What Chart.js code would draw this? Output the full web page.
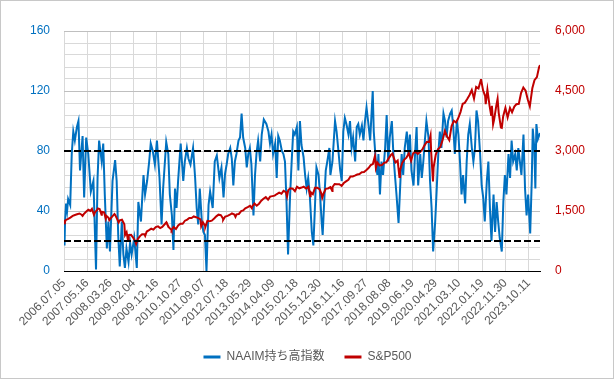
<!DOCTYPE html>
<html><head><meta charset="utf-8">
<script src="https://cdn.jsdelivr.net/npm/chart.js@4.4.1/dist/chart.umd.min.js"></script>
<style>html,body{margin:0;padding:0;background:#fff;}canvas{display:block;}</style>
</head><body>
<canvas id="c" width="615" height="380"></canvas>
<script>
// x-axis tick labels (one every 45 weekly categories)
const xTickLabels = ['2006.07.05','2007.05.16','2008.03.26','2009.02.04','2009.12.16','2010.10.27','2011.09.07','2012.07.18','2013.05.29','2014.04.09','2015.02.18','2015.12.30','2016.11.16','2017.09.27','2018.08.08','2019.06.19','2020.04.29','2021.03.10','2022.01.19','2022.11.30','2023.10.11'];
const xTickStep = 45;
const xMaxIndex = 922;

// left / right axis tick labels
const leftTickLabels = [0, 40, 80, 120, 160];
const rightTickLabels = ['0', '1,500', '3,000', '4,500', '6,000'];

// NAAIM exposure index: week index since 2006.07.05, value
const naaimWeek = [0,1,2,4,6,8,12,15,18,21,25,28,31,36,39,43,47,52,57,62,65,68,73,76,79,83,86,89,94,99,102,105,108,112,115,118,121,125,128,131,136,141,144,149,154,157,161,165,168,172,176,180,185,189,192,198,202,205,209,212,215,218,221,226,231,234,238,241,245,250,254,257,260,263,267,270,273,276,280,283,288,292,296,301,305,309,312,315,318,322,325,328,331,334,338,341,344,347,351,354,357,360,363,367,370,373,376,380,383,387,392,396,399,402,405,409,412,415,418,422,425,428,431,434,438,441,444,447,451,454,457,460,464,467,470,473,476,480,483,486,489,493,496,499,501,504,507,510,514,516,520,525,528,531,535,538,541,544,547,551,554,557,560,564,567,570,573,577,580,583,586,589,593,596,598,600,604,607,609,612,615,618,622,625,628,631,635,638,641,644,648,651,654,657,660,664,667,670,673,677,680,683,686,690,693,696,699,702,706,709,712,715,719,722,725,728,731,735,738,741,744,748,751,754,757,761,764,767,770,773,777,780,783,786,790,793,796,799,802,806,809,812,815,819,822,825,828,832,835,838,841,844,848,851,854,857,861,864,867,870,874,877,880,883,886,890,893,896,899,903,906,908,911,913,915,918,922];
const naaimValue = [22,17,33,45,40,48,44,78,93,87,96,100,67,90,49,89,78,53,60,1,62,87,73,85,51,15,33,13,60,74,60,24,3,33,11,2,15,6,19,11,22,2,46,33,64,51,60,73,85,80,71,87,62,31,55,86,78,51,37,14,55,42,60,85,60,73,82,75,71,82,62,42,31,55,33,26,24,0,44,53,42,73,77,62,69,49,65,71,78,82,75,57,73,78,87,89,105,89,82,69,78,82,71,37,64,79,87,73,91,101,98,93,85,91,78,85,62,90,87,80,78,73,46,11,51,73,93,91,96,67,100,84,76,64,55,62,51,26,17,42,69,64,51,33,24,46,67,73,82,64,73,100,93,82,67,60,93,102,98,91,100,82,89,73,96,98,91,97,87,100,109,100,87,107,120,93,73,64,78,51,73,64,82,104,73,89,100,78,64,51,32,55,78,64,82,93,78,91,67,57,78,96,57,78,62,73,87,100,89,60,42,13,33,55,78,93,82,105,100,89,100,105,107,96,78,100,91,73,51,64,45,73,91,98,82,73,82,107,100,78,57,49,33,60,73,42,20,51,26,46,33,22,13,46,64,51,78,62,87,73,78,67,82,73,64,91,55,37,51,25,60,95,82,55,98,88,92];

// S&P500 closes (date, value)
const spDate = ['2006-07-05','2006-07-18','2006-07-31','2006-08-31','2006-09-29','2006-10-31','2006-11-30','2006-12-29','2007-01-31','2007-02-28','2007-03-14','2007-03-30','2007-04-30','2007-05-31','2007-06-29','2007-07-19','2007-08-15','2007-08-31','2007-09-28','2007-10-09','2007-10-31','2007-11-26','2007-11-30','2007-12-31','2008-01-22','2008-01-31','2008-02-29','2008-03-10','2008-03-31','2008-04-30','2008-05-19','2008-05-30','2008-06-30','2008-07-15','2008-07-31','2008-08-29','2008-09-30','2008-10-10','2008-10-31','2008-11-20','2008-11-28','2008-12-31','2009-01-30','2009-02-27','2009-03-09','2009-03-31','2009-04-30','2009-05-29','2009-06-30','2009-07-10','2009-07-31','2009-08-31','2009-09-30','2009-10-30','2009-11-30','2009-12-31','2010-01-29','2010-02-26','2010-03-31','2010-04-23','2010-04-30','2010-05-28','2010-06-30','2010-07-02','2010-07-30','2010-08-31','2010-09-30','2010-10-29','2010-11-30','2010-12-31','2011-01-31','2011-02-28','2011-03-31','2011-04-29','2011-05-31','2011-06-30','2011-07-29','2011-08-08','2011-08-31','2011-09-30','2011-10-03','2011-10-31','2011-11-30','2011-12-30','2012-01-31','2012-02-29','2012-03-30','2012-04-30','2012-05-31','2012-06-01','2012-06-29','2012-07-31','2012-08-31','2012-09-28','2012-10-31','2012-11-15','2012-11-30','2012-12-31','2013-01-31','2013-02-28','2013-03-28','2013-04-30','2013-05-31','2013-06-24','2013-06-28','2013-07-31','2013-08-30','2013-09-30','2013-10-31','2013-11-29','2013-12-31','2014-01-31','2014-02-28','2014-03-31','2014-04-30','2014-05-30','2014-06-30','2014-07-31','2014-08-29','2014-09-30','2014-10-15','2014-10-31','2014-11-28','2014-12-31','2015-01-30','2015-02-27','2015-03-31','2015-04-30','2015-05-29','2015-06-30','2015-07-31','2015-08-25','2015-08-31','2015-09-30','2015-10-30','2015-11-30','2015-12-31','2016-01-29','2016-02-11','2016-02-29','2016-03-31','2016-04-29','2016-05-31','2016-06-27','2016-06-30','2016-07-29','2016-08-31','2016-09-30','2016-10-31','2016-11-30','2016-12-30','2017-01-31','2017-02-28','2017-03-31','2017-04-28','2017-05-31','2017-06-30','2017-07-31','2017-08-31','2017-09-29','2017-10-31','2017-11-30','2017-12-29','2018-01-26','2018-02-08','2018-02-28','2018-03-29','2018-04-30','2018-05-31','2018-06-29','2018-07-31','2018-08-31','2018-09-20','2018-10-31','2018-11-30','2018-12-24','2018-12-31','2019-01-31','2019-02-28','2019-03-29','2019-04-30','2019-05-31','2019-06-28','2019-07-31','2019-08-30','2019-09-30','2019-10-31','2019-11-29','2019-12-31','2020-01-31','2020-02-19','2020-02-28','2020-03-23','2020-03-31','2020-04-30','2020-05-29','2020-06-30','2020-07-31','2020-08-31','2020-09-30','2020-10-30','2020-11-30','2020-12-31','2021-01-29','2021-02-26','2021-03-31','2021-04-30','2021-05-28','2021-06-30','2021-07-30','2021-08-31','2021-09-30','2021-10-29','2021-11-30','2021-12-31','2022-01-03','2022-01-31','2022-02-28','2022-03-08','2022-03-31','2022-04-29','2022-05-20','2022-05-31','2022-06-16','2022-06-30','2022-07-29','2022-08-16','2022-08-31','2022-09-30','2022-10-12','2022-10-31','2022-11-30','2022-12-30','2023-01-31','2023-02-28','2023-03-31','2023-04-28','2023-05-31','2023-06-30','2023-07-31','2023-08-31','2023-09-29','2023-10-27','2023-11-30','2023-12-29','2024-01-31','2024-02-29','2024-03-08','2024-03-13'];
const spValue = [1270,1236,1277,1304,1336,1378,1401,1418,1438,1406,1377,1421,1482,1531,1503,1553,1406,1474,1527,1565,1549,1407,1481,1468,1310,1379,1331,1273,1323,1386,1426,1400,1280,1214,1267,1283,1166,899,969,752,896,903,826,735,677,798,873,919,919,879,987,1021,1057,1036,1096,1115,1074,1104,1169,1217,1187,1089,1031,1022,1102,1049,1141,1183,1181,1258,1286,1327,1326,1364,1345,1321,1292,1119,1219,1131,1099,1253,1247,1258,1312,1366,1408,1398,1310,1278,1362,1379,1407,1441,1412,1353,1416,1426,1498,1515,1569,1598,1631,1573,1606,1686,1633,1682,1757,1806,1848,1783,1859,1872,1884,1924,1960,1931,2003,1972,1862,2018,2068,2059,1995,2105,2068,2086,2107,2063,2104,1868,1972,1920,2079,2080,2044,1940,1829,1932,2060,2065,2097,2001,2099,2174,2171,2168,2126,2199,2239,2279,2364,2363,2384,2412,2423,2470,2472,2519,2575,2648,2674,2873,2581,2714,2641,2648,2705,2718,2816,2902,2931,2712,2760,2351,2507,2704,2784,2834,2946,2752,2942,2980,2926,2977,3038,3141,3231,3226,3386,2954,2237,2585,2912,3044,3100,3271,3500,3363,3270,3622,3756,3714,3811,3973,4181,4204,4298,4395,4523,4308,4605,4567,4766,4797,4516,4374,4171,4530,4132,3901,4132,3667,3785,4130,4305,3955,3586,3577,3872,4080,3840,4077,3970,4109,4169,4180,4450,4589,4508,4288,4117,4568,4770,4846,5096,5124,5150];

// reference levels on the left axis
const upperLevel = 80;
const lowerLevel = 20;

// convert a date into the weekly category index (one week is missing from the source in late 2015)
function weekIndex(s) {
  const p = s.split('-').map(Number);
  const t = Date.UTC(p[0], p[1] - 1, p[2]);
  const w = (t - Date.UTC(2006, 6, 5)) / (7 * 864e5);
  return t >= Date.UTC(2016, 0, 6) ? w - 1 : w;
}

const FONT = "'Liberation Sans', Arial, 'Noto Sans CJK JP', sans-serif";
Chart.defaults.font.family = FONT;
Chart.defaults.font.size = 12;

const framePlugin = {
  id: 'frame',
  beforeDraw(chart) {
    const c = chart.ctx;
    c.save(); c.fillStyle = '#fff'; c.fillRect(0, 0, chart.width, chart.height); c.restore();
  },
  afterDraw(chart) {
    const c = chart.ctx;
    c.save(); c.strokeStyle = '#c8c8c8'; c.lineWidth = 1;
    c.strokeRect(0.5, 0.5, 613, 378); c.restore();
  }
};

new Chart(document.getElementById('c'), {
  type: 'line',
  data: {
    datasets: [
      { label: 'NAAIM持ち高指数', data: naaimWeek.map((w, i) => ({ x: w, y: naaimValue[i] })),
        borderColor: '#0070C0', backgroundColor: '#0070C0', borderWidth: 2, pointRadius: 0, tension: 0, yAxisID: 'y', order: 3 },
      { label: 'S&P500', data: spDate.map((d, i) => ({ x: weekIndex(d), y: spValue[i] })),
        borderColor: '#C00000', backgroundColor: '#C00000', borderWidth: 2, pointRadius: 0, tension: 0, yAxisID: 'y1', order: 2 },
      { label: 'upper', data: [{ x: 0, y: upperLevel }, { x: xMaxIndex, y: upperLevel }],
        borderColor: '#000', borderWidth: 2, borderDash: [7, 3], pointRadius: 0, yAxisID: 'y', order: 1 },
      { label: 'lower', data: [{ x: 0, y: lowerLevel }, { x: xMaxIndex, y: lowerLevel }],
        borderColor: '#000', borderWidth: 2, borderDash: [7, 3], pointRadius: 0, yAxisID: 'y', order: 1 }
    ]
  },
  options: {
    responsive: false,
    animation: false,
    devicePixelRatio: 1,
    events: [],
    layout: { padding: { top: 31, right: 0, bottom: 7, left: 0 } },
    scales: {
      x: {
        type: 'linear', min: 0, max: xMaxIndex,
        afterBuildTicks: s => { s.ticks = xTickLabels.map((_, i) => ({ value: i * xTickStep })); },
        afterFit: s => { s.height = 60; },
        ticks: { autoSkip: false, minRotation: 45, maxRotation: 45, padding: 5, color: '#595959',
                 callback: (v, i) => xTickLabels[i] },
        grid: { color: '#d9d9d9', drawTicks: false },
        border: { display: true, color: '#000', width: 1 }
      },
      y: {
        position: 'left', min: 0, max: 160,
        afterFit: s => { s.width = 64; },
        ticks: { stepSize: 8, autoSkip: false, color: '#0070C0', padding: 14,
                 callback: v => leftTickLabels.includes(v) ? String(v) : '' },
        grid: { drawTicks: false, color: c => {
          const v = c.tick ? c.tick.value : 1;
          if (v === 0) return '#000';
          return v % 40 === 0 ? '#bfbfbf' : '#d9d9d9';
        } },
        border: { display: false }
      },
      y1: {
        position: 'right', min: 0, max: 6000,
        afterFit: s => { s.width = 75; },
        ticks: { stepSize: 1500, autoSkip: false, color: '#C00000', padding: 15,
                 callback: v => rightTickLabels[Math.round(v / 1500)] },
        grid: { display: false, drawTicks: false },
        border: { display: false }
      }
    },
    plugins: {
      tooltip: { enabled: false },
      legend: {
        position: 'bottom',
        labels: {
          color: '#595959', boxWidth: 17, boxHeight: 3, padding: 20,
          generateLabels: chart => chart.data.datasets.slice(0, 2).map((d, i) => ({
            text: d.label, fillStyle: d.borderColor, strokeStyle: d.borderColor, lineWidth: 0,
            hidden: false, datasetIndex: i, fontColor: '#595959'
          }))
        }
      }
    }
  },
  plugins: [framePlugin]
});
</script>
</body></html>
